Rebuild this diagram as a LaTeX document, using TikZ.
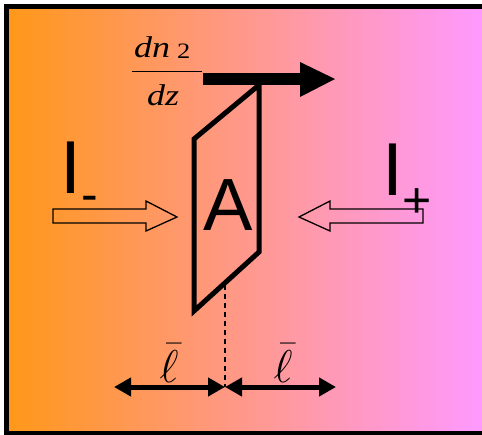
\RequirePackage{fix-cm}
\documentclass[tikz,border=0pt]{standalone}
\usepackage{fontspec}
\usetikzlibrary{arrows.meta}
\newfontfamily\sansA{Liberation Sans}
\newfontfamily\fracfont[FakeStretch=1.2]{Liberation Serif}
\definecolor{leftc}{RGB}{255,152,25}
\definecolor{rightc}{RGB}{255,153,255}
\tikzset{
  txt/.style={inner sep=0pt, outer sep=0pt},
  frac/.style={txt, font=\fracfont\itshape\fontsize{30}{30}\selectfont, anchor=base west},
  bigsans/.style={txt, font=\sansA\fontsize{75}{75}\selectfont, anchor=base},
  subsans/.style={txt, font=\sansA\fontsize{50}{50}\selectfont, anchor=base},
  ellfont/.style={txt, font=\fontsize{46}{46}\selectfont, anchor=base},
  hollow/.style={draw=black, line width=1.3pt, line join=miter},
  plate/.style={draw=black, line width=5pt, line join=miter},
  dimarrow/.style={line width=5pt, {Triangle[length=17pt,width=18pt]}-{Triangle[length=17pt,width=18pt]}},
  dashline/.style={line width=1.5pt, dash pattern=on 5pt off 4pt},
}
\begin{document}
\begin{tikzpicture}[x=1pt,y=-1pt]
\useasboundingbox (0,0) rectangle (482,434);
\clip (0,0) rectangle (482,434);
% background
\shade[left color=leftc, right color=rightc] (9,9) rectangle (482,431);
\draw[line width=5pt, line join=miter] (482,6.5) -- (6.5,6.5) -- (6.5,433.5) -- (482,433.5);
% fraction dn_2/dz
\node[frac] (dn) at (134,57) {dn};
\node[txt, font=\fracfont\fontsize{22}{22}\selectfont, anchor=base west] (two) at (177,58) {2};
\coordinate (fl) at (132,71.5);
\coordinate (fr) at (202,71.5);
\draw[line width=1.5pt] (fl) -- (fr);
\node[frac] (dz) at (147,105) {dz};
% thick arrow
\coordinate (shaftL) at (203,78.5);
\coordinate (shaftR) at (301,78.5);
\draw[line width=12pt] (shaftL) -- (shaftR);
\fill (300,62) -- (335,79) -- (300,97) -- cycle;
% plate A
\draw[plate] (194,139) -- (259,85) -- (259,252) -- (194,311) -- cycle;
\node[bigsans, font=\sansA\fontsize{74}{74}\selectfont] (A) at (228,230) {A};
% I- and I+
\node[bigsans] (Im) at (71,193) {I};
\node[subsans] (minus) at (89.5,211) {-};
\node[bigsans] (Ip) at (393,195) {I};
\node[subsans] (plus) at (417.5,217) {+};
% hollow arrows
\draw[hollow] (53,209) -- (146,209) -- (146,201) -- (177,217) -- (146,231) -- (146,223) -- (53,223) -- cycle;
\draw[hollow] (423,209) -- (330,209) -- (330,201) -- (299,217) -- (330,231) -- (330,223) -- (423,223) -- cycle;
% dashed line and dimension arrows
\coordinate (dtop) at (225,285);
\coordinate (mid) at (225,387);
\coordinate (lend) at (114,387);
\coordinate (rend) at (336,387);
\draw[dashline] (dtop) -- (mid);
\draw[dimarrow] (lend) -- (mid);
\draw[dimarrow] (mid) -- (rend);
\node[ellfont] (l1) at (169,382) {$\bar{\ell}$};
\node[ellfont] (l2) at (283,382) {$\bar{\ell}$};
\end{tikzpicture}
\end{document}
